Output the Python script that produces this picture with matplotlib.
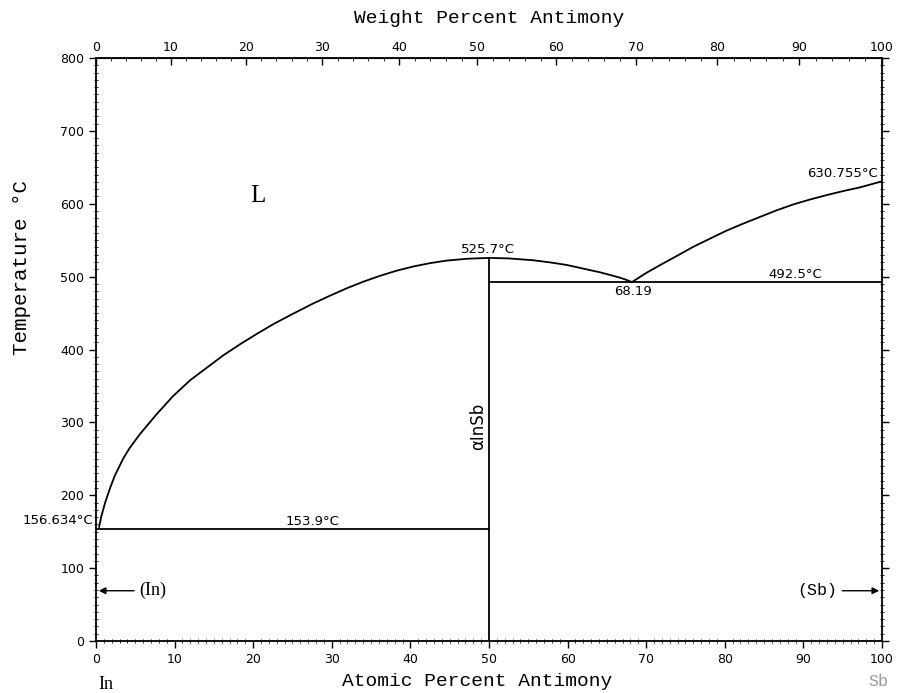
import matplotlib.pyplot as plt
import numpy as np
from matplotlib.ticker import MultipleLocator, FixedLocator

# molar masses for the wt% <-> at% top axis
M_In = 114.82
M_Sb = 121.76

# liquidus, In side (at.% Sb, deg C)
liq_in_x = [0.4, 0.7, 1.2, 1.8, 2.4, 3.5, 4.3, 5.6, 7.7, 9.8, 12.0, 14.1, 16.2, 18.3,
            20.4, 22.6, 24.7, 27.6, 29.8, 31.9, 34.0, 36.1, 38.2, 40.4, 42.5, 44.6, 47.3, 50.0]
liq_in_t = [156.634, 172, 191, 210, 227, 251, 265, 284, 311, 336, 358, 375, 392, 407,
            421, 435, 447, 463, 474, 484, 493, 501, 508, 514, 518.5, 522, 524.6, 525.7]

# liquidus between InSb and eutectic
liq_mid_x = [50.0, 52.5, 55.6, 57.8, 59.9, 62.0, 64.1, 65.5, 66.7, 67.5, 68.19]
liq_mid_t = [525.7, 525, 522.5, 519.5, 516, 511, 506, 502, 498.5, 495.5, 492.5]

# liquidus, Sb side
liq_sb_x = [68.19, 70.0, 71.8, 74.0, 76.0, 78.1, 80.2, 82.4, 84.5, 86.6, 88.7, 90.9,
            93.0, 95.1, 97.2, 100.0]
liq_sb_t = [492.5, 505, 516, 529, 541, 552, 563, 573, 582, 591, 599, 606,
            612, 617.5, 622.5, 630.755]

# invariant lines
eut_in = ([0, 50], [153.9, 153.9])
eut_sb = ([50, 100], [492.5, 492.5])
insb = ([50, 50], [0, 525.7])

wt_ticks = list(range(0, 101, 10))


def at2wt(a):
    a = np.asarray(a, dtype=float)
    return 100 * a * M_Sb / (a * M_Sb + (100 - a) * M_In)


def wt2at(w):
    w = np.asarray(w, dtype=float)
    return 100 * (w / M_Sb) / (w / M_Sb + (100 - w) / M_In)


fig = plt.figure(figsize=(9.07, 6.93), dpi=100)
ax = fig.add_axes([0.1058, 0.075, 0.8666, 0.8413])

lw = 1.3
ax.plot(liq_in_x, liq_in_t, 'k', lw=lw)
ax.plot(liq_mid_x, liq_mid_t, 'k', lw=lw)
ax.plot(liq_sb_x, liq_sb_t, 'k', lw=lw)
ax.plot(*eut_in, 'k', lw=lw)
ax.plot(*eut_sb, 'k', lw=lw)
ax.plot(*insb, 'k', lw=lw)

ax.set_xlim(0, 100)
ax.set_ylim(0, 800)
ax.xaxis.set_major_locator(MultipleLocator(10))
ax.xaxis.set_minor_locator(MultipleLocator(1))
ax.yaxis.set_major_locator(MultipleLocator(100))
ax.yaxis.set_minor_locator(MultipleLocator(10))
ax.tick_params(which='major', direction='out', length=5, width=1, labelsize=9)
ax.tick_params(which='minor', direction='inout', length=3, width=0.6)
ax.tick_params(axis='y', which='both', right=True)
ax.tick_params(axis='x', which='both', top=False)
for s in ax.spines.values():
    s.set_linewidth(1.3)

top = ax.secondary_xaxis('top', functions=(at2wt, wt2at))
top.xaxis.set_major_locator(FixedLocator(wt_ticks))
top.xaxis.set_minor_locator(FixedLocator(list(range(0, 101, 2))))
top.tick_params(which='major', direction='in', length=5, width=1, labelsize=9, pad=3)
top.tick_params(which='minor', direction='in', length=2, width=0.6)

mono = 'Liberation Mono'
serif = 'Liberation Serif'
top.set_xlabel('Weight Percent Antimony', fontsize=14, family=mono, labelpad=13)
ax.set_xlabel('Atomic Percent Antimony', fontsize=14, family=mono, labelpad=6)
ax.xaxis.set_label_coords(0.485, -0.055)
ax.set_ylabel('Temperature °C', fontsize=15, family=mono)
ax.yaxis.set_label_coords(-0.083, 0.64)

fs = 9.5
ax.text(-0.4, 156.634, '156.634°C', ha='right', va='bottom', fontsize=fs)
ax.text(27.5, 155.5, '153.9°C', ha='center', va='bottom', fontsize=fs)
ax.text(49.9, 529, '525.7°C', ha='center', va='bottom', fontsize=fs)
ax.text(68.3, 489, '68.19', ha='center', va='top', fontsize=fs)
ax.text(89, 494.5, '492.5°C', ha='center', va='bottom', fontsize=fs)
ax.text(99.5, 633, '630.755°C', ha='right', va='bottom', fontsize=fs)
ax.text(48.6, 295, 'αInSb', rotation=90, ha='center', va='center', fontsize=12)
ax.text(20.6, 610, 'L', ha='center', va='center', fontsize=18, family=serif)

ax.annotate('', xy=(0, 69), xytext=(5.2, 69),
            arrowprops=dict(arrowstyle='-|>', color='k', lw=1, mutation_scale=10))
ax.text(5.5, 69, '(In)', ha='left', va='center', fontsize=13, family=serif)
ax.annotate('', xy=(100, 69), xytext=(94.6, 69),
            arrowprops=dict(arrowstyle='-|>', color='k', lw=1, mutation_scale=10))
ax.text(94.3, 69, '(Sb)', ha='right', va='center', fontsize=12, family=mono)

ax.text(1.2, -60, 'In', ha='center', va='center', fontsize=13, family=serif)
ax.text(99.6, -55, 'Sb', ha='center', va='center', fontsize=12, family=mono, color='0.6')

fig.savefig('out.png', dpi=100)
